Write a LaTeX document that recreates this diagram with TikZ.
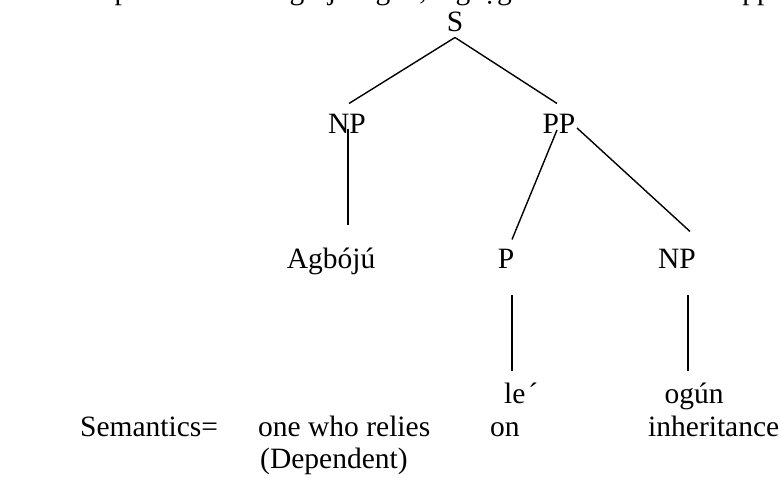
\documentclass[tikz,border=0pt]{standalone}
\usepackage{fontspec}
\setmainfont{Liberation Serif}
\usetikzlibrary{calc}
\begin{document}
\begin{tikzpicture}[x=1pt,y=-1pt,
  lbl/.style={inner sep=0pt,anchor=base,font=\fontsize{29.5}{34}\selectfont},
  lblw/.style={lbl,anchor=base west},
  edge/.style={line width=1.4pt,line cap=butt}]
\useasboundingbox (0,0) rectangle (780,478);
\fill[white] (0,0) rectangle (780,478);

% descenders of the preceding text line, cut by the page edge
\begin{scope}
\clip (0,0) rectangle (780,478);
\node[lbl] (t1) at (122,0) {p};
\node[lbl] (t2) at (297,0) {g};
\node[lbl] (t3) at (332,0) {j};
\node[lbl] (t4) at (383,0) {g};
\node[lbl] (t5) at (423,0) {,};
\node[lbl] (t6) at (463,0) {g};
\node[lbl] (t7) at (497,0) {ọg};
\node[lbl] (t8) at (757,0) {pp};
\end{scope}

% tree labels
\node[lbl] (S)   at (455,32)  {S};
\node[lbl] (np)  at (347,134) {NP};
\node[lbl] (pp)  at (559,134) {PP};
\node[lbl] (ag)  at (331,269) {Agbójú};
\node[lbl] (p)   at (506,269) {P};
\node[lbl] (np2) at (677,269) {NP};
\node[lblw] (le) at (504,404) {le\kern3pt´};
\node[lbl] (ogun) at (694,404) {ogún};

% semantics row
\node[lblw] (sem)  at (80,437)  {Semantics=};
\node[lblw] (one)  at (258,437) {one who relies};
\node[lblw] (dep)  at (260,469) {(Dependent)};
\node[lblw] (on)   at (490,437) {on};
\node[lblw] (inh)  at (648,437) {inheritance};

% branches
\coordinate (sroot) at ($(S.south)+(0,5)$);
\draw[edge] (sroot) -- ($(np.north)+(2,-11)$);
\draw[edge] (sroot) -- ($(pp.north)+(-2,-11)$);

\coordinate (a1) at ($(np.base)+(1,-5)$);
\draw[edge] (a1) -- ($(a1 |- ag.north)+(0,-23)$);

\draw[edge] ($(pp.base)+(-2,-4)$) -- ($(p.north)+(6,-10)$);
\draw[edge] ($(pp.base)+(18,-6)$) -- ($(np2.north)+(13,-18)$);

\coordinate (b1) at ($(p.base)+(6,26)$);
\draw[edge] (b1) -- ($(b1 |- le.north)+(0,-12)$);
\coordinate (c1) at ($(np2.base)+(11,26)$);
\draw[edge] (c1) -- ($(c1 |- ogun.north)+(0,-12)$);
\end{tikzpicture}
\end{document}
